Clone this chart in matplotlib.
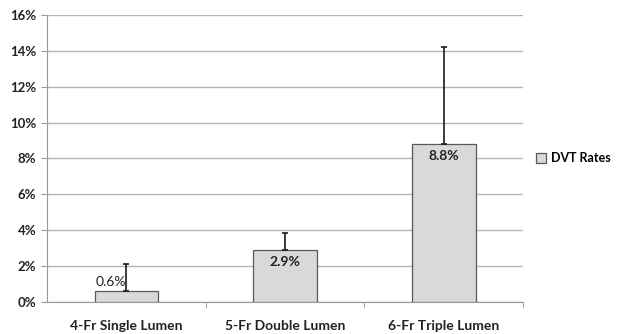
import numpy as np
import matplotlib.pyplot as plt
from matplotlib.ticker import FuncFormatter

# DVT rates by catheter type
categories = ["4-Fr Single Lumen", "5-Fr Double Lumen", "6-Fr Triple Lumen"]
rates = [0.6, 2.9, 8.8]
upper_err = [1.5, 0.95, 5.4]
rate_labels = ["0.6%", "2.9%", "8.8%"]

plt.rcParams['font.family'] = ['Lato', 'DejaVu Sans']

fig = plt.figure(figsize=(6.17, 3.34), dpi=100)
ax = fig.add_axes([0.076, 0.096, 0.772, 0.859])

x = np.arange(len(categories))
bars = ax.bar(x, rates, width=0.4, color='#d9d9d9', edgecolor='#595959',
              linewidth=0.9, label='DVT Rates', zorder=3)
ax.errorbar(x, rates, yerr=[np.zeros(len(rates)), upper_err], fmt='none',
            ecolor='#1a1a1a', elinewidth=1.2, capsize=2, capthick=1.2, zorder=4)

# value labels: first one sits above the bar, others inside near the top
for i, (r, lab) in enumerate(zip(rates, rate_labels)):
    if i == 0:
        ax.text(x[i] - 0.1, r + 0.15, lab, ha='center', va='bottom',
                fontsize=10, color='#222222', zorder=5)
    else:
        ax.text(x[i], r - 0.35, lab, ha='center', va='top',
                fontsize=10, fontweight='bold', color='#222222', zorder=5)

ax.set_xlim(-0.5, 2.5)
ax.set_ylim(0, 16)
ax.set_yticks(np.arange(0, 17, 2))
ax.yaxis.set_major_formatter(FuncFormatter(lambda v, p: f"{v:.0f}%"))
ax.grid(axis='y', color='#b5b5b5', linewidth=1.0, zorder=0)

ax.set_xticks(x)
ax.set_xticklabels(categories, fontsize=10, fontweight='bold', color='#222222')
ax.set_xticks([0.5, 1.5, 2.5], minor=True)
ax.tick_params(axis='x', which='major', length=0, pad=13)
ax.tick_params(axis='x', which='minor', length=4, color='#999999')
ax.tick_params(axis='y', length=4, color='#999999', labelsize=9.5, labelcolor='#222222')
for t in ax.get_yticklabels():
    t.set_fontweight('bold')

for s in ['top', 'right']:
    ax.spines[s].set_visible(False)
for s in ['left', 'bottom']:
    ax.spines[s].set_color('#999999')

leg = ax.legend(loc='center left', bbox_to_anchor=(1.0, 0.5), frameon=False,
                handlelength=0.8, handleheight=0.8, handletextpad=0.4,
                borderaxespad=0.6, prop={'size': 9, 'weight': 'bold'})

fig.savefig('out.png', dpi=100)
